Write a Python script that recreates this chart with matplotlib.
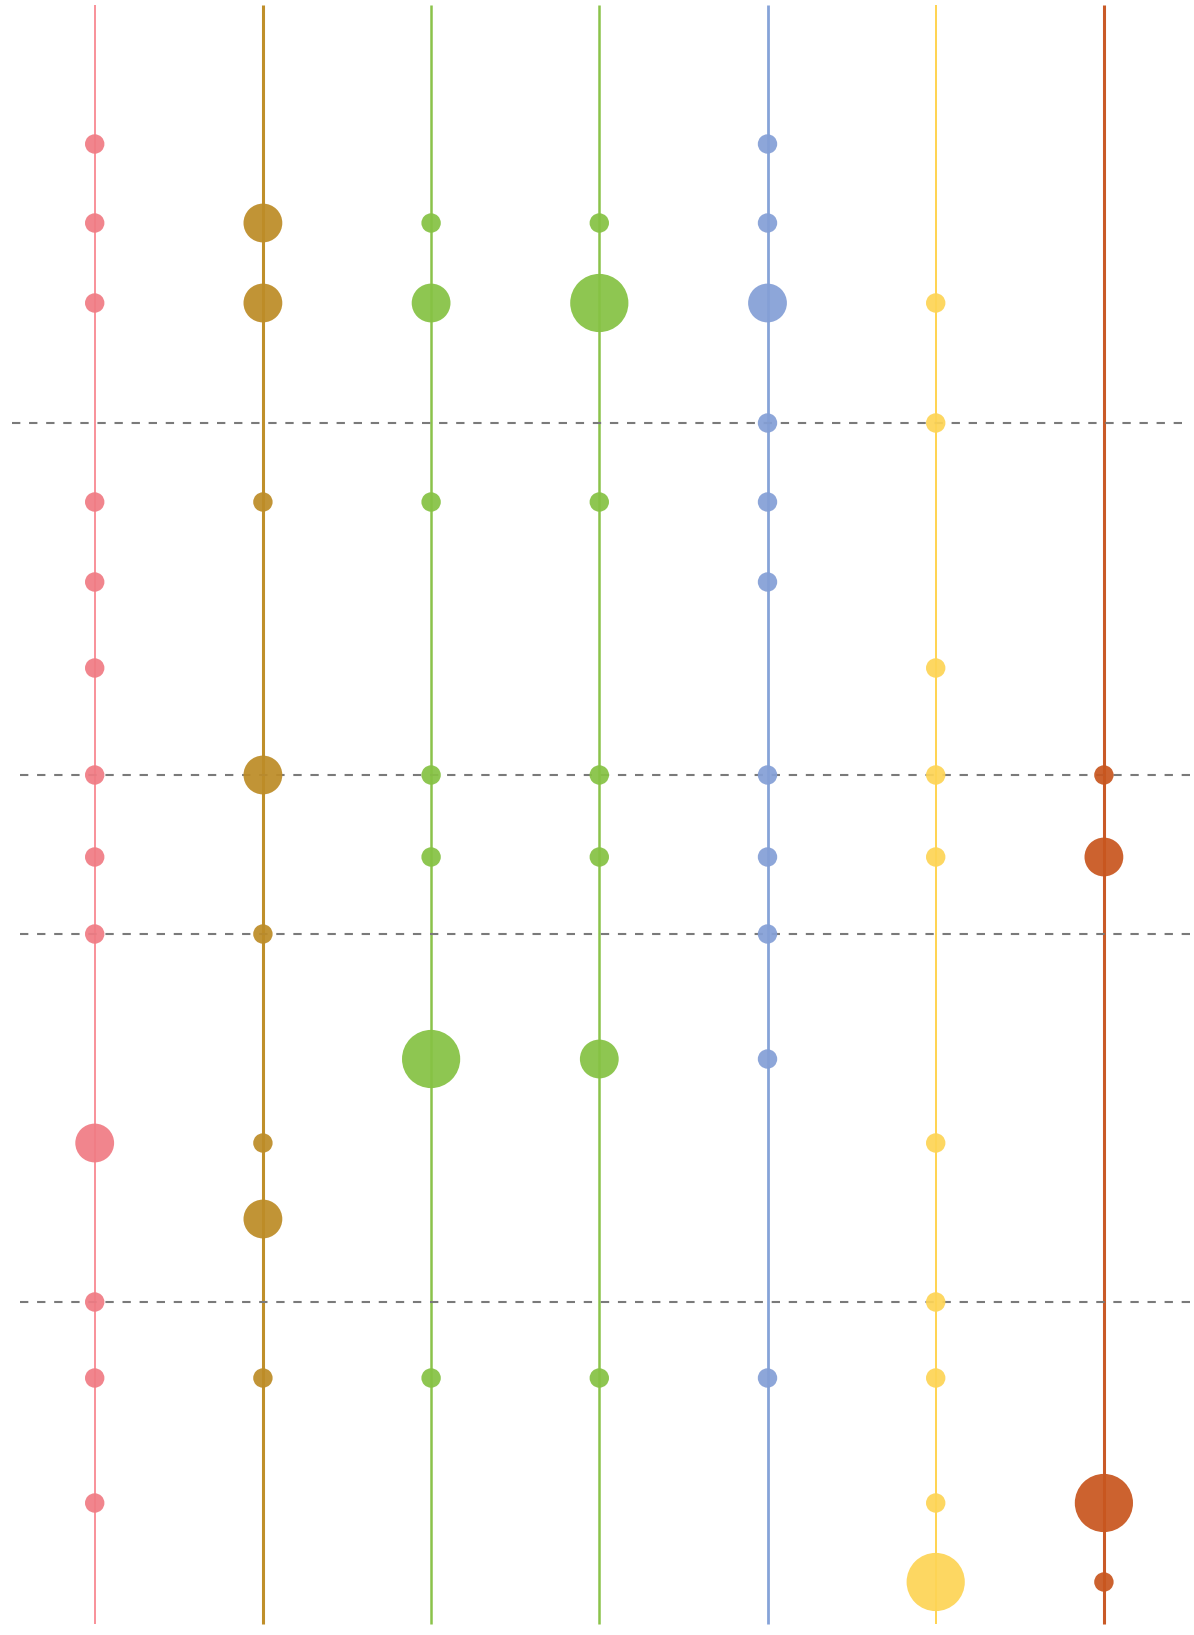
import matplotlib
matplotlib.use("Agg")
import matplotlib.pyplot as plt

# ---- data ----
# y-values of the rows (value scale, top = small)
row_values = [144, 223, 303, 423, 502, 582, 668, 775, 857, 934,
              1059, 1143, 1219, 1302, 1378, 1503, 1582]

# rows where a dashed reference line is drawn
dashed_rows = [3, 7, 9, 13]

# per column: row indices and magnitude (1 small, 2 medium, 3 large)
col0_rows = [0, 1, 2, 4, 5, 6, 7, 8, 9, 11, 13, 14, 15]
col0_vals = [1, 1, 1, 1, 1, 1, 1, 1, 1, 2, 1, 1, 1]
col1_rows = [1, 2, 4, 7, 9, 11, 12, 14]
col1_vals = [2, 2, 1, 2, 1, 1, 2, 1]
col2_rows = [1, 2, 4, 7, 8, 10, 14]
col2_vals = [1, 2, 1, 1, 1, 3, 1]
col3_rows = [1, 2, 4, 7, 8, 10, 14]
col3_vals = [1, 3, 1, 1, 1, 2, 1]
col4_rows = [0, 1, 2, 3, 4, 5, 7, 8, 9, 10, 14]
col4_vals = [1, 1, 2, 1, 1, 1, 1, 1, 1, 1, 1]
col5_rows = [2, 3, 6, 7, 8, 11, 13, 14, 15, 16]
col5_vals = [1, 1, 1, 1, 1, 1, 1, 1, 1, 3]
col6_rows = [7, 8, 15, 16]
col6_vals = [1, 2, 3, 1]

columns = [
    (col0_rows, col0_vals),
    (col1_rows, col1_vals),
    (col2_rows, col2_vals),
    (col3_rows, col3_vals),
    (col4_rows, col4_vals),
    (col5_rows, col5_vals),
    (col6_rows, col6_vals),
]

# ---- styles ----
dot_colors = ["#F07C84", "#BD8C27", "#86C244", "#86C244", "#849FD6", "#FDD456", "#C8561F"]
line_colors = ["#F7737D", "#BF8F2A", "#8BC34A", "#8BC34A", "#86A3D8", "#FFC820", "#C95A27"]
line_widths = [1.1, 2.2, 1.8, 1.8, 2.0, 1.1, 2.2]

W, H = 1194, 1635
fig = plt.figure(figsize=(W / 100, H / 100), dpi=100)
ax = fig.add_axes([0, 0, 1, 1])
ax.set_axis_off()

x0, dx = 94.7, 168.2
xmin = -x0 / dx
xmax = xmin + W / dx
ax.set_xlim(xmin, xmax)
ax.set_ylim(H, 0)

# vertical lines
for i, (lc, lw) in enumerate(zip(line_colors, line_widths)):
    ax.plot([i, i], [5, 1624], color=lc, lw=lw, solid_capstyle="butt", zorder=1)

# dashed horizontal lines
for k, r in enumerate(dashed_rows):
    left = (12 - x0) / dx if k == 0 else (20 - x0) / dx
    right = (1190 - x0) / dx
    ax.plot([left, right], [row_values[r]] * 2, color="#7A7A7A", lw=1.5,
            linestyle=(0, (4.0, 4.2)), zorder=2)

# dots
unit_d_pt = 19.4 * 0.72
for i, (rows, vals) in enumerate(columns):
    ys = [row_values[r] for r in rows]
    sizes = [(v * unit_d_pt) ** 2 for v in vals]
    ax.scatter([i] * len(ys), ys, s=sizes, color=dot_colors[i], alpha=0.93,
               linewidths=0, zorder=3)

fig.savefig("out.png", dpi=100, facecolor="white")
